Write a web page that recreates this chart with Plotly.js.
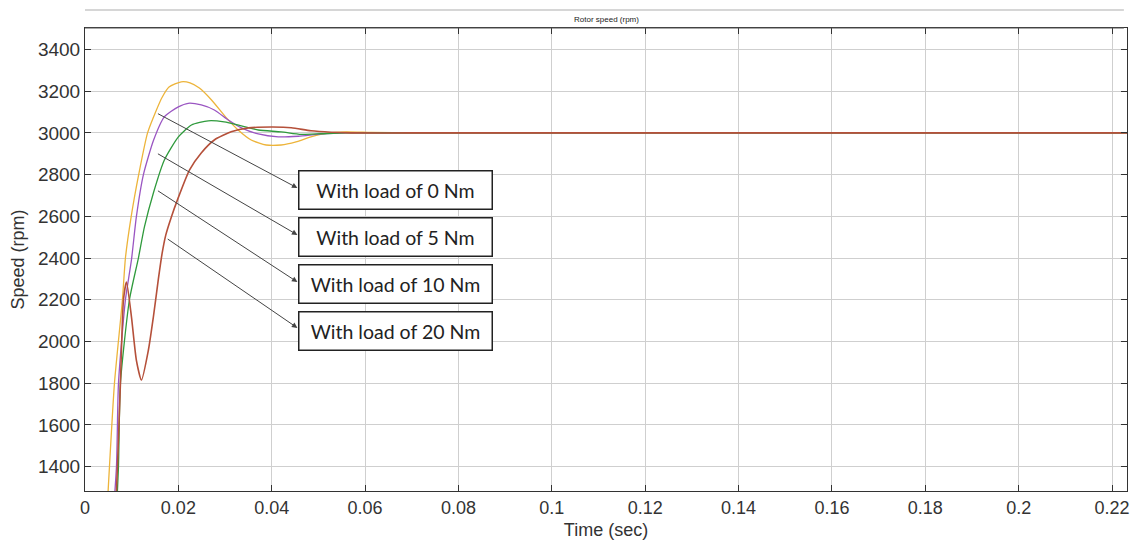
<!DOCTYPE html>
<html>
<head>
<meta charset="utf-8">
<script src="https://cdn.plot.ly/plotly-3.0.1.min.js"></script>
<style>html,body{margin:0;padding:0;background:#fff;}#chart{width:1132px;height:546px;}</style>
</head>
<body>
<div id="chart"></div>
<script>
// ---- data ----
const seriesNames = ["With load of 0 Nm", "With load of 5 Nm", "With load of 10 Nm", "With load of 20 Nm"];

const tLoad0 = [0.0045, 0.00524, 0.00631, 0.00802, 0.00866, 0.0099, 0.0115, 0.0134, 0.0153, 0.0165, 0.0180, 0.0206, 0.0225, 0.0245, 0.0271, 0.0303, 0.0328, 0.0356, 0.0388, 0.042, 0.0452, 0.0484, 0.0517, 0.0559, 0.0613, 0.07, 0.1, 0.15, 0.2232];
const speedLoad0 = [1100, 1400, 1800, 2200, 2400, 2600, 2800, 3000, 3110, 3170, 3220, 3245, 3240, 3215, 3158, 3072, 3014, 2966, 2942, 2942, 2957, 2981, 2998, 3005, 3002, 3000, 3000, 3000, 3000];

const tLoad5 = [0.0058, 0.00674, 0.00717, 0.00866, 0.00995, 0.0110, 0.0125, 0.0147, 0.0170, 0.0200, 0.0221, 0.0249, 0.0277, 0.0307, 0.0335, 0.0371, 0.0414, 0.0457, 0.0506, 0.0559, 0.07, 0.1, 0.15, 0.2232];
const speedLoad5 = [1100, 1400, 1800, 2200, 2391, 2597, 2799, 2966, 3077, 3125, 3142, 3134, 3110, 3062, 3024, 2995, 2981, 2984, 2995, 3000, 3000, 3000, 3000, 3000];

const tLoad10 = [0.0066, 0.00717, 0.00759, 0.00952, 0.01144, 0.01273, 0.01465, 0.0170, 0.0200, 0.0228, 0.0264, 0.0298, 0.0335, 0.0371, 0.0420, 0.0463, 0.0506, 0.0559, 0.07, 0.1, 0.15, 0.2232];
const speedLoad10 = [1100, 1400, 1800, 2200, 2400, 2549, 2712, 2870, 2981, 3038, 3058, 3053, 3034, 3014, 3005, 2993, 2996, 3000, 3000, 3000, 3000, 3000];

const tLoad20 = [0.0064, 0.00695, 0.00759, 0.00824, 0.00888, 0.00995, 0.0110, 0.01209, 0.01358, 0.01465, 0.01572, 0.0165, 0.0173, 0.0185, 0.0198, 0.0224, 0.0249, 0.0277, 0.0313, 0.0350, 0.0399, 0.0442, 0.0484, 0.0527, 0.0570, 0.07, 0.1, 0.15, 0.2232];
const speedLoad20 = [1100, 1400, 1800, 2200, 2285, 2118, 1911, 1815, 1959, 2118, 2300, 2420, 2510, 2597, 2679, 2823, 2904, 2966, 3005, 3024, 3028, 3025, 3010, 3003, 3000, 3000, 3000, 3000, 3000];

const xTicks = [0, 0.02, 0.04, 0.06, 0.08, 0.1, 0.12, 0.14, 0.16, 0.18, 0.2, 0.22];
const xTickText = ["0", "0.02", "0.04", "0.06", "0.08", "0.1", "0.12", "0.14", "0.16", "0.18", "0.2", "0.22"];
const yTicks = [1400, 1600, 1800, 2000, 2200, 2400, 2600, 2800, 3000, 3200, 3400];

// label arrows: tail on curve, head at box
const arrowTailT = [0.0153, 0.0153, 0.0153, 0.0174];
const arrowTailY = [3096, 2904, 2727, 2496];
const arrowHeadT = [0.0455, 0.0455, 0.0455, 0.0455];
const arrowHeadY = [2736, 2511, 2285, 2065];
const boxCenterT = [0.0666, 0.0666, 0.0666, 0.0666];
const boxCenterY = [2724, 2501, 2276, 2050];

const colors = ["#EDB43A", "#9A55C2", "#2F9A3C", "#B5503A"];

const tList = [tLoad0, tLoad5, tLoad10, tLoad20];
const yList = [speedLoad0, speedLoad5, speedLoad10, speedLoad20];
const traces = tList.map((t, i) => ({
  x: t, y: yList[i], type: "scatter", mode: "lines", name: seriesNames[i],
  line: {color: colors[i], width: i === 3 ? 1.6 : 1.3, shape: "spline", smoothing: 0.6},
  hoverinfo: "skip"
}));

const annotations = [];
for (let i = 0; i < 4; i++) {
  annotations.push({
    x: arrowHeadT[i], y: arrowHeadY[i], xref: "x", yref: "y",
    ax: arrowTailT[i], ay: arrowTailY[i], axref: "x", ayref: "y",
    text: "", showarrow: true, arrowhead: 2, arrowsize: 1.1, arrowwidth: 1, arrowcolor: "#444"
  });
  annotations.push({
    x: boxCenterT[i], y: boxCenterY[i], xref: "x", yref: "y",
    text: seriesNames[i], showarrow: false,
    font: {family: "Lato, 'Open Sans', sans-serif", size: 19.5, color: "#222"},
    bgcolor: "#ffffff", bordercolor: "#222", borderwidth: 1.5, borderpad: 2,
    width: 188, height: 33, align: "center", valign: "middle"
  });
}
annotations.push({
  x: 0.5, y: 1.018, xref: "paper", yref: "paper", yanchor: "middle",
  text: "Rotor speed (rpm)", showarrow: false,
  font: {family: "Liberation Sans, Arial, sans-serif", size: 8, color: "#222"}
});

const layout = {
  width: 1132, height: 546,
  margin: {l: 85, r: 5, t: 28, b: 55},
  paper_bgcolor: "#ffffff", plot_bgcolor: "#ffffff",
  showlegend: false,
  font: {family: "Liberation Sans, Arial, sans-serif", color: "#333"},
  xaxis: {
    range: [0, 0.2232], tickvals: xTicks, ticktext: xTickText,
    showgrid: true, gridcolor: "#cfcfcf", gridwidth: 1,
    ticks: "inside", ticklen: 6, tickcolor: "#333", mirror: "ticks",
    showline: true, linecolor: "#333", linewidth: 1, zeroline: false,
    tickfont: {size: 18, color: "#333"},
    title: {text: "Time (sec)", font: {size: 18, color: "#333"}, standoff: 6}
  },
  yaxis: {
    range: [1283, 3503], tickvals: yTicks,
    showgrid: true, gridcolor: "#cfcfcf", gridwidth: 1,
    ticks: "inside", ticklen: 6, tickcolor: "#333", mirror: "ticks",
    showline: true, linecolor: "#333", linewidth: 1, zeroline: false,
    tickfont: {size: 19, color: "#333"},
    title: {text: "Speed (rpm)", font: {size: 18, color: "#333"}, standoff: 8}
  },
  annotations: annotations,
  shapes: [
    {type: "line", xref: "paper", yref: "paper", x0: 0, x1: 0.997, y0: 1.039, y1: 1.039, line: {color: "#d6d6d6", width: 2}},
    {type: "line", xref: "paper", yref: "paper", x0: 0, x1: 0.997, y0: 1.0, y1: 1.0, line: {color: "#555", width: 1}}
  ]
};

Plotly.newPlot("chart", traces, layout, {staticPlot: true, displayModeBar: false});
</script>
</body>
</html>
